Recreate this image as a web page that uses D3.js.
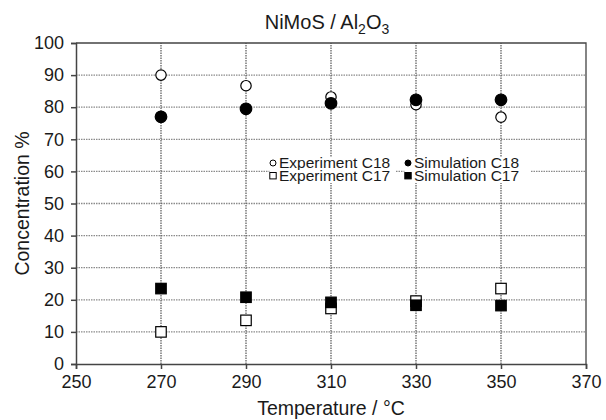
<!DOCTYPE html>
<html>
<head>
<meta charset="utf-8">
<script src="https://cdn.jsdelivr.net/npm/d3@7"></script>
<style>
  body { margin: 0; background: #fff; }
  svg text { font-family: "Liberation Sans", Arial, sans-serif; fill: #1a1a1a; }
</style>
</head>
<body>
<div id="chart"></div>
<script>
const temperatures = [270, 290, 310, 330, 350]
const expC18 = [90, 86.7, 83.2, 80.8, 76.9]
const simC18 = [77, 79.5, 81.2, 82.3, 82.3]
const expC17 = [10, 13.6, 17.3, 19.6, 23.5]
const simC17 = [23.5, 20.8, 19.2, 18.3, 18.2]
const xTicks = [250, 270, 290, 310, 330, 350, 370]
const yTicks = [0, 10, 20, 30, 40, 50, 60, 70, 80, 90, 100]

const render = () => {
  const width = 606
  const height = 420
  const margin = { top: 43, right: 20, bottom: 56, left: 76 }

  const svg = d3
    .select('#chart')
    .append('svg')
    .attr('width', width)
    .attr('height', height)

  const xScale = d3
    .scaleLinear()
    .domain([250, 370])
    .range([margin.left, width - margin.right])

  const yScale = d3
    .scaleLinear()
    .domain([0, 100])
    .range([height - margin.bottom, margin.top])

  // horizontal grid
  svg
    .append('g')
    .selectAll('line')
    .data(yTicks.filter((d) => d > 0 && d < 100))
    .enter()
    .append('line')
    .attr('x1', xScale(250))
    .attr('x2', xScale(370))
    .attr('y1', (d) => yScale(d))
    .attr('y2', (d) => yScale(d))
    .attr('stroke', '#8a8a8a')
    .attr('stroke-width', 1.3)
    .attr('stroke-dasharray', '1.5,1')

  // vertical grid at data temperatures
  svg
    .append('g')
    .selectAll('line')
    .data(temperatures)
    .enter()
    .append('line')
    .attr('x1', (d) => xScale(d))
    .attr('x2', (d) => xScale(d))
    .attr('y1', yScale(0))
    .attr('y2', yScale(100))
    .attr('stroke', '#555')
    .attr('stroke-width', 1.2)
    .attr('stroke-dasharray', '1.5,1')

  // frame top/right
  svg
    .append('path')
    .attr('d', `M${xScale(250)},${yScale(100)}H${xScale(370)}V${yScale(0)}`)
    .attr('fill', 'none')
    .attr('stroke', '#444')
    .attr('stroke-width', 1.3)

  // axes
  const xAxis = svg
    .append('g')
    .attr('transform', `translate(0, ${yScale(0)})`)
    .call(d3.axisBottom(xScale).tickValues(xTicks).tickSize(5).tickPadding(6))
  const yAxis = svg
    .append('g')
    .attr('transform', `translate(${xScale(250)}, 0)`)
    .call(d3.axisLeft(yScale).tickValues(yTicks).tickSize(5).tickPadding(7))

  ;[xAxis, yAxis].forEach((ax) => {
    ax.selectAll('path, line').attr('stroke', '#444').attr('stroke-width', 1.5)
    ax.selectAll('text').style('font-size', '18px').attr('fill', '#1a1a1a')
  })

  // markers
  const drawCircles = (vals, filled) => {
    svg
      .append('g')
      .selectAll('circle')
      .data(vals)
      .enter()
      .append('circle')
      .attr('cx', (d, i) => xScale(temperatures[i]))
      .attr('cy', (d) => yScale(d))
      .attr('r', filled ? 5.8 : 5.2)
      .attr('fill', filled ? '#000' : '#fff')
      .attr('stroke', '#000')
      .attr('stroke-width', 1.2)
  }
  const drawSquares = (vals, filled) => {
    const s = 10.5
    svg
      .append('g')
      .selectAll('rect')
      .data(vals)
      .enter()
      .append('rect')
      .attr('x', (d, i) => xScale(temperatures[i]) - s / 2)
      .attr('y', (d) => yScale(d) - s / 2)
      .attr('width', s)
      .attr('height', s)
      .attr('fill', filled ? '#000' : '#fff')
      .attr('stroke', '#000')
      .attr('stroke-width', 1.2)
  }
  drawCircles(expC18, false)
  drawSquares(expC17, false)
  drawCircles(simC18, true)
  drawSquares(simC17, true)

  // legend
  const legendItems = [
    { label: 'Experiment C18', shape: 'circle', filled: false, x: 273, y: 168 },
    { label: 'Simulation C18', shape: 'circle', filled: true, x: 408, y: 168 },
    { label: 'Experiment C17', shape: 'square', filled: false, x: 273, y: 181 },
    { label: 'Simulation C17', shape: 'square', filled: true, x: 408, y: 181 },
  ]
  const legend = svg.append('g')
  legendItems.forEach((it) => {
    legend
      .append('rect')
      .attr('x', it.x - 3.5)
      .attr('y', it.y - 11)
      .attr('width', 126)
      .attr('height', 13)
      .attr('fill', '#fff')
    if (it.shape === 'circle') {
      legend
        .append('circle')
        .attr('cx', it.x)
        .attr('cy', it.y - 5)
        .attr('r', 3)
        .attr('fill', it.filled ? '#000' : '#fff')
        .attr('stroke', '#000')
        .attr('stroke-width', 1)
    } else {
      legend
        .append('rect')
        .attr('x', it.x - 3.2)
        .attr('y', it.y - 8.5)
        .attr('width', 6.4)
        .attr('height', 6.4)
        .attr('fill', it.filled ? '#000' : '#fff')
        .attr('stroke', '#000')
        .attr('stroke-width', 1)
    }
    legend
      .append('text')
      .attr('x', it.x + 6)
      .attr('y', it.y)
      .style('font-size', '15.5px')
      .text(it.label)
  })

  // title
  const title = svg
    .append('text')
    .attr('x', 327)
    .attr('y', 29)
    .attr('text-anchor', 'middle')
    .style('font-size', '20px')
  title.append('tspan').text('NiMoS / Al')
  title.append('tspan').attr('dy', 5).style('font-size', '14px').text('2')
  title.append('tspan').attr('dy', -5).text('O')
  title.append('tspan').attr('dy', 5).style('font-size', '14px').text('3')

  // axis titles
  svg
    .append('text')
    .attr('x', (xScale(250) + xScale(370)) / 2)
    .attr('y', 415)
    .attr('text-anchor', 'middle')
    .style('font-size', '19.5px')
    .text('Temperature / °C')

  svg
    .append('text')
    .attr('transform', `translate(29, ${(yScale(0) + yScale(100)) / 2}) rotate(-90)`)
    .attr('text-anchor', 'middle')
    .style('font-size', '19.5px')
    .text('Concentration %')
}

render()
</script>
</body>
</html>
